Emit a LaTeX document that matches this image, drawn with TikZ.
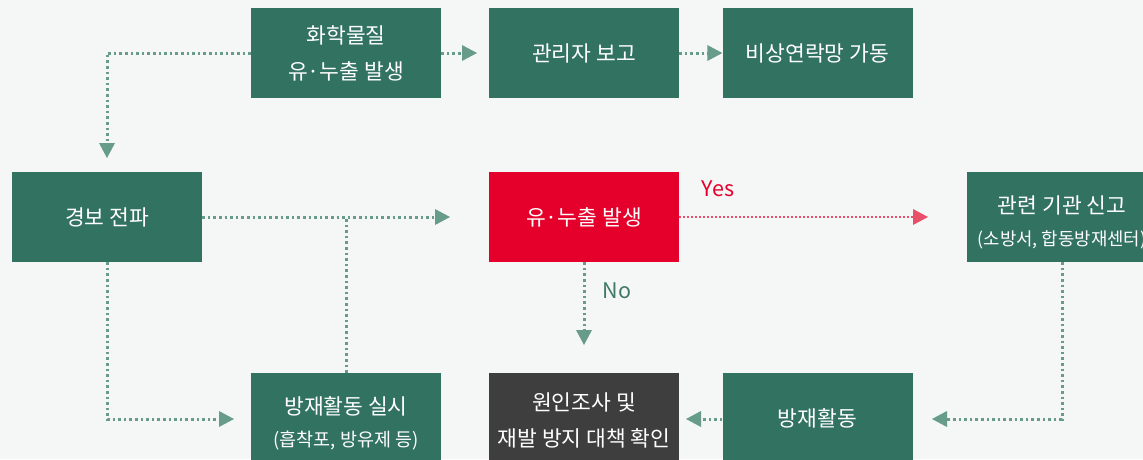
\documentclass[tikz,border=0pt]{standalone}
\usepackage{fontspec}
\setmainfont{Noto Sans CJK KR}
\usetikzlibrary{arrows.meta}
\definecolor{bg}{HTML}{F5F7F6}
\definecolor{boxgreen}{HTML}{327260}
\definecolor{boxred}{HTML}{E4002B}
\definecolor{boxgray}{HTML}{3E3E3E}
\definecolor{linegreen}{HTML}{679C8B}
\definecolor{linered}{HTML}{E8506A}
\definecolor{txtgreen}{HTML}{3F7A66}
\newcommand{\subtxt}[2][18.5pt]{{\fontsize{#1}{20pt}\selectfont #2}}
\tikzset{
  box/.style={rectangle, fill=boxgreen, text=white, minimum width=190pt, minimum height=90pt, inner sep=0pt, align=center, font=\fontsize{21.5pt}{36pt}\selectfont},
  redbox/.style={box, fill=boxred},
  graybox/.style={box, fill=boxgray},
  boxtext/.style={text=white, align=center, font=\fontsize{21.5pt}{36pt}\selectfont, inner sep=0pt},
  flow/.style={draw=linegreen, line width=3pt, dash pattern=on 2.6pt off 3pt, -{Triangle[length=15pt,width=16pt,fill=linegreen,line width=0pt]}},
  plainflow/.style={draw=linegreen, line width=3pt, dash pattern=on 2.6pt off 3pt},
  redflow/.style={draw=linered, line width=2.6pt, dash pattern=on 2pt off 2pt, -{Triangle[length=15pt,width=16pt,fill=linered,line width=0pt]}},
  lbl/.style={font=\fontsize{21.5pt}{24pt}\selectfont, inner sep=0pt}
}
\begin{document}
\begin{tikzpicture}[x=1pt,y=-1pt]
\fill[bg] (0,0) rectangle (1143,459);
\useasboundingbox (0,0) rectangle (1143,459);
\clip (0,0) rectangle (1143,459);
\node[box] (A) at (346,53) {화학물질\\유·누출 발생};
\node[box] (B) at (584,53) {관리자 보고};
\node[box] (C) at (817.5,53) {비상연락망 가동};
\node[box] (D) at (107,217) {경보 전파};
\node[redbox] (E) at (584,217) {유·누출 발생};
\node[box] (F) at (1062,217) {};
\node[boxtext] (Ft) at (1062,222) {관련 기관 신고\\[-4pt]\subtxt[17.8pt]{(소방서, 합동방재센터)}};
\node[box] (G) at (346,418) {};
\node[boxtext] (Gt) at (346,423) {방재활동 실시\\[-4pt]\subtxt{(흡착포, 방유제 등)}};
\node[graybox] (H) at (584,418) {};
\node[boxtext] (Ht) at (584,420) {원인조사 및\\재발 방지 대책 확인};
\node[box] (I) at (817.5,418) {방재활동};

\coordinate (dTip) at (107,158);
\coordinate (bTip) at (477,53);
\coordinate (eTip) at (450,217);
\coordinate (join) at (346,217);
\coordinate (gTip) at (234,419);
\coordinate (fTip) at (928,217);
\coordinate (hTip) at (584,345);
\coordinate (iTip) at (932,419);
\coordinate (h2Tip) at (686,419);

\draw[flow] (A.west) -| (dTip);
\draw[flow] (A.east) -- (bTip);
\draw[flow] (B.east) -- (C.west);
\draw[flow] (D.east) -- (eTip);
\draw[plainflow] (G.north) -- (join);
\draw[flow] (D.south) |- (gTip);
\draw[redflow] (E.east) -- (fTip);
\draw[flow] (E.south) -- (hTip);
\draw[flow] (F.south) |- (iTip);
\draw[flow] (I.west |- h2Tip) -- (h2Tip);

\node[lbl, text=boxred] (yes) at (718,189) {Yes};
\node[lbl, text=txtgreen] (no) at (617,291) {No};
\end{tikzpicture}
\end{document}
